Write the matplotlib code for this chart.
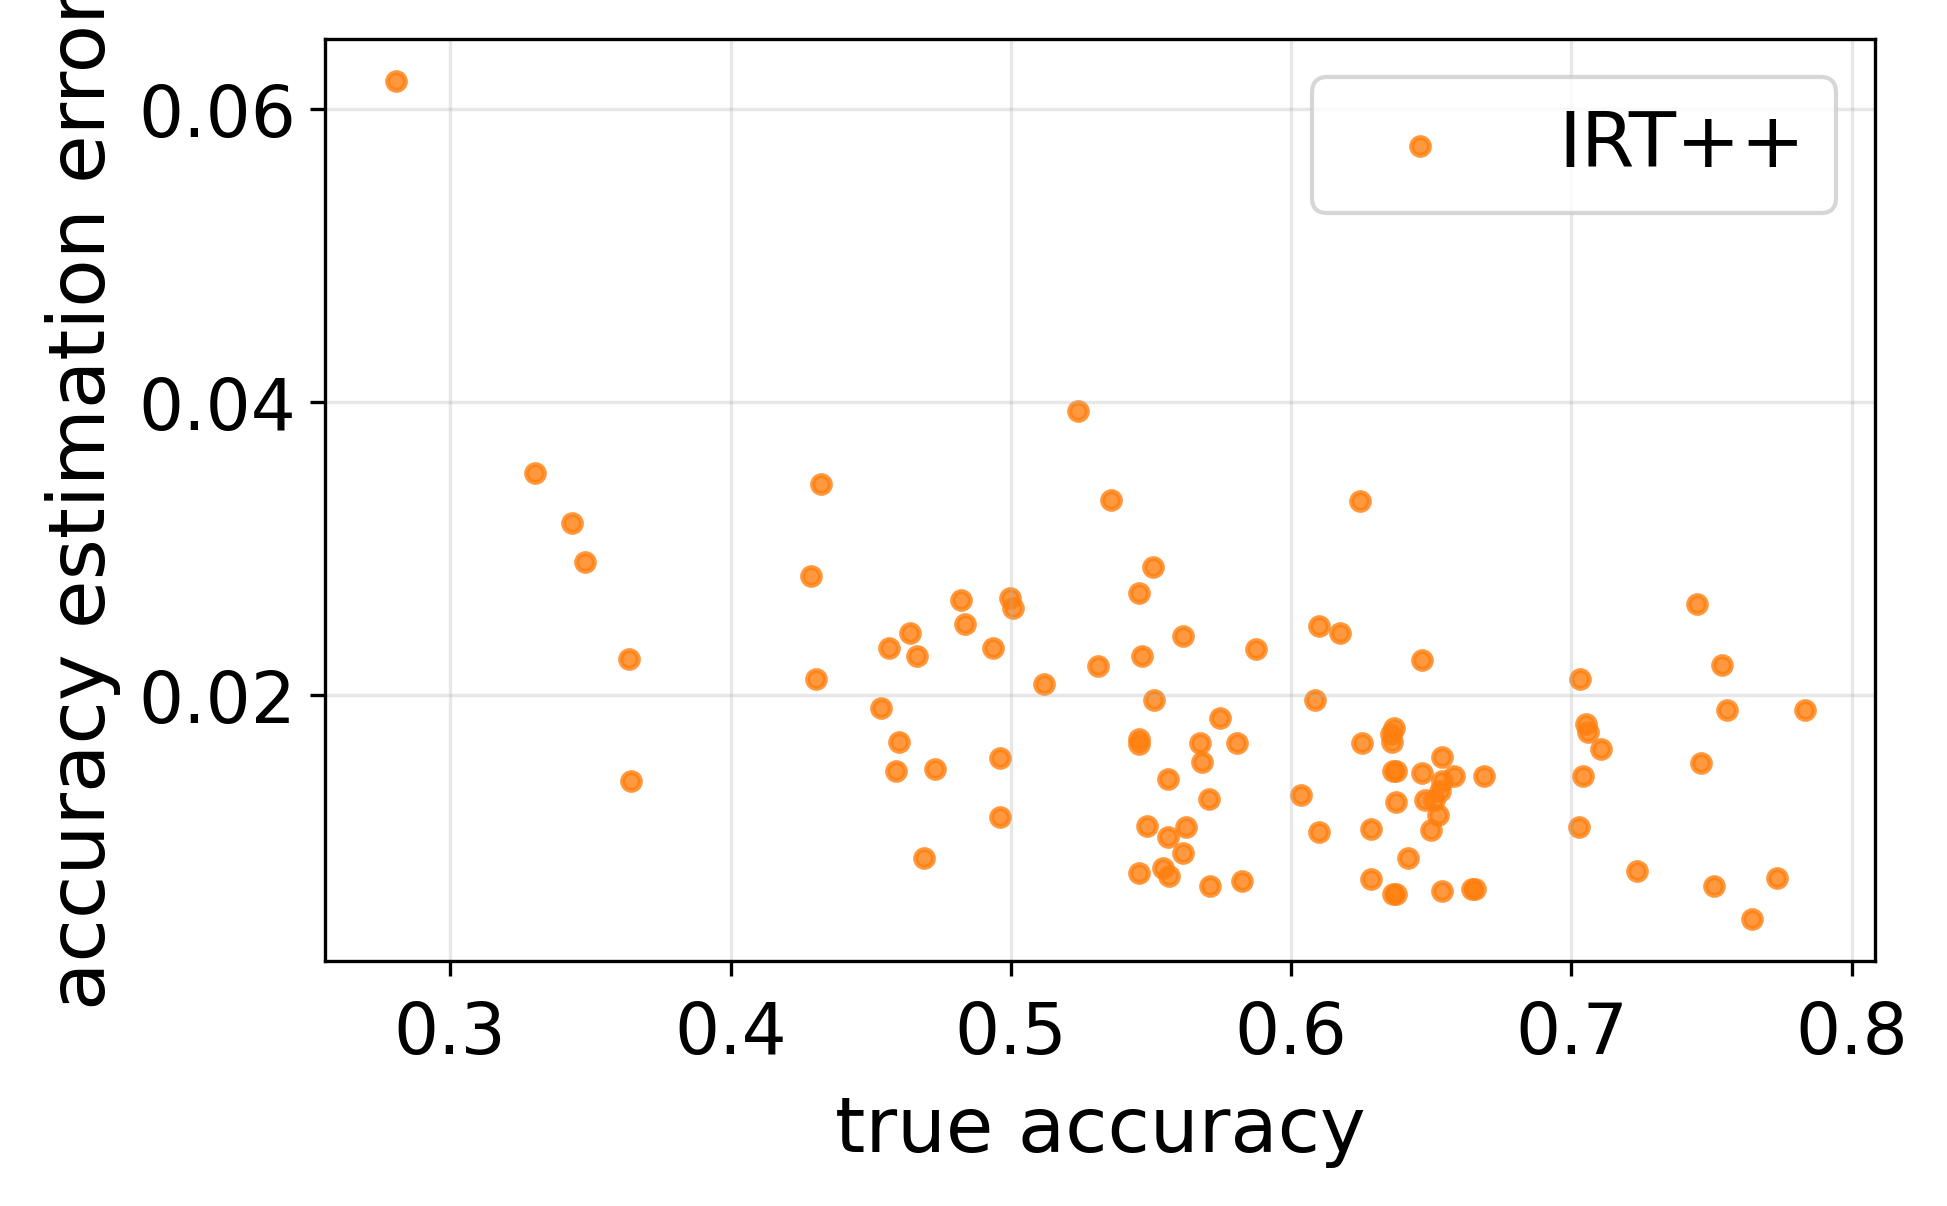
import numpy as np
import matplotlib
matplotlib.use("Agg")
import matplotlib.pyplot as plt

# true accuracy vs. |estimated - true| for IRT++
true_acc = [
    0.2805, 0.3301, 0.3433, 0.3482, 0.3637, 0.3645,
    0.4322, 0.4286, 0.4304,
    0.4538, 0.4565, 0.4640, 0.4667, 0.4600, 0.4592,
    0.4821, 0.4835, 0.4936, 0.4729, 0.4689,
    0.4998, 0.5007, 0.4963, 0.4963, 0.5118,
    0.5241, 0.5356, 0.5312,
    0.5507, 0.5458, 0.5467, 0.5613, 0.5511, 0.5458, 0.5458, 0.5560, 0.5485,
    0.5560, 0.5626, 0.5613, 0.5458, 0.5542, 0.5564, 0.5710, 0.5825, 0.5675,
    0.5683, 0.5745, 0.5706, 0.5807, 0.5874,
    0.6037, 0.6086, 0.6099, 0.6099, 0.6174,
    0.6245, 0.6254, 0.6285, 0.6285,
    0.6355, 0.6369, 0.6360, 0.6364, 0.6373, 0.6373, 0.6417, 0.6364, 0.6373,
    0.6466, 0.6466, 0.6479, 0.6510, 0.6532, 0.6523, 0.6501, 0.6537, 0.6537,
    0.6581, 0.6537, 0.6647, 0.6656, 0.6687,
    0.7032, 0.7041, 0.7027, 0.7054, 0.7058, 0.7107, 0.7235,
    0.7447, 0.7461, 0.7536, 0.7554, 0.7509, 0.7646, 0.7735, 0.7832,
]
est_error = [
    0.06195, 0.03517, 0.03170, 0.02907, 0.02246, 0.01407,
    0.03441, 0.02814, 0.02110,
    0.01907, 0.02322, 0.02424, 0.02263, 0.01678, 0.01475,
    0.02644, 0.02483, 0.02322, 0.01492, 0.00881,
    0.02661, 0.02593, 0.01568, 0.01161, 0.02076,
    0.03941, 0.03331, 0.02195,
    0.02873, 0.02695, 0.02263, 0.02398, 0.01966, 0.01695, 0.01661, 0.01424, 0.01102,
    0.01025, 0.01093, 0.00915, 0.00780, 0.00814, 0.00763, 0.00695, 0.00729, 0.01669,
    0.01542, 0.01839, 0.01288, 0.01669, 0.02314,
    0.01314, 0.01966, 0.02466, 0.01059, 0.02424,
    0.03322, 0.01669, 0.01085, 0.00737,
    0.01729, 0.01771, 0.01678, 0.01475, 0.01475, 0.01263, 0.00881, 0.00636, 0.00636,
    0.02237, 0.01466, 0.01280, 0.01280, 0.01339, 0.01178, 0.01076, 0.01576, 0.01407,
    0.01441, 0.00661, 0.00670, 0.00670, 0.01441,
    0.02110, 0.01441, 0.01093, 0.01797, 0.01746, 0.01627, 0.00797,
    0.02619, 0.01534, 0.02203, 0.01898, 0.00695, 0.00466, 0.00746, 0.01898,
]

fig, ax = plt.subplots(figsize=(6.49, 4.023), dpi=300)
fig.subplots_adjust(left=0.167, right=0.963, top=0.967, bottom=0.203)

ax.scatter(true_acc, est_error, s=18, linewidths=1.2, color='tab:orange',
           alpha=0.8, label='IRT++')
ax.grid(alpha=0.3)
ax.set_xlabel('true accuracy', fontsize=18.5, labelpad=6)
ax.set_ylabel('accuracy estimation error', fontsize=19)
ax.tick_params(labelsize=17)
ax.tick_params(axis='x', pad=5.7)
ax.set_yticks([0.02, 0.04, 0.06])
ax.legend(fontsize=18.5, loc='upper right')

fig.savefig('out.png', dpi=300)
